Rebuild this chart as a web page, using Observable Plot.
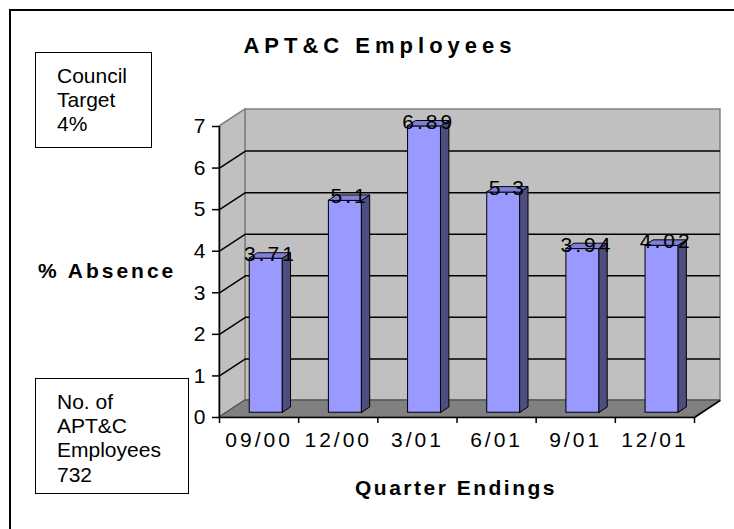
<!DOCTYPE html>
<html><head><meta charset="utf-8">
<script src="https://cdn.jsdelivr.net/npm/d3@7"></script>
<script src="https://cdn.jsdelivr.net/npm/@observablehq/plot@0.6"></script>
<style>
body{margin:0;background:#fff;}
#wrap{position:relative;width:734px;height:529px;overflow:hidden;font-family:'Liberation Sans',Arial,sans-serif;background:#fff;}
#wrap svg{position:absolute;left:0;top:0;}
.frame{position:absolute;left:9px;top:9px;width:900px;height:900px;border-left:2px solid #000;border-top:2px solid #000;}
.box{position:absolute;border:1.5px solid #000;box-sizing:border-box;}
.t{position:absolute;white-space:nowrap;color:#000;}
</style></head><body><div id="wrap"></div>
<script>
const categories = ["09/00","12/00","3/01","6/01","9/01","12/01"];
const absence = [3.71, 5.1, 6.89, 5.3, 3.94, 4.02];
const yTicks = [0,1,2,3,4,5,6,7];
const gridLevels = [1,2,3,4,5,6];
const titleText = "APT&C Employees";
const yLabel = "% Absence";
const xLabel = "Quarter Endings";
const box1Lines = ["Council","Target","4%"];
const box2Lines = ["No. of","APT&C","Employees","732"];

const n = categories.length;
const yMax = yTicks[yTicks.length-1];
const boundaries = d3.range(n+1);
// 3D depth offset expressed in data units
const DX = 0.328, DY = 0.409;
const F = 0.28, S = 0.31, W = 0.21;

const backWall = [{x1: DX, x2: n + DX, y1: DY, y2: yMax + DY}];
const sideWall = [{x: 0, y1: 0, y2: yMax}, {x: DX, y1: DY, y2: yMax + DY}];
const floor = [{y: 0, x1: 0, x2: n}, {y: DY, x1: DX, x2: n + DX}];

const bars = absence.map((v,i)=>({i, v, x1: i+0.5-W+F*DX, x2: i+0.5+W+F*DX, y0: F*DY, y1: v+F*DY}));
const sides = bars.flatMap(b=>[{z:b.i, x:b.x2, y1:b.y0, y2:b.y1},{z:b.i, x:b.x2+S*DX, y1:b.y0+S*DY, y2:b.y1+S*DY}]);
const tops = bars.flatMap(b=>[{z:b.i, y:b.y1, x1:b.x1, x2:b.x2},{z:b.i, y:b.y1+S*DY, x1:b.x1+S*DX, x2:b.x2+S*DX}]);

const chart = Plot.plot({
  width: 734, height: 529,
  marginLeft: 219, marginRight: 40, marginTop: 126, marginBottom: 112,
  x: {type: "linear", domain: [0, n], label: null},
  y: {type: "linear", domain: [0, yMax], label: null},
  style: {fontSize: "21px", fontFamily: "'Liberation Sans', Arial, sans-serif", letterSpacing: "3px", overflow: "visible", background: "transparent", color: "#000"},
  marks: [
    Plot.rect(backWall, {x1: "x1", x2: "x2", y1: "y1", y2: "y2", fill: "#c0c0c0", stroke: "#808080", strokeWidth: 1.5}),
    Plot.areaY(sideWall, {x: "x", y1: "y1", y2: "y2", fill: "#c0c0c0", stroke: "#808080", strokeWidth: 1.5}),
    Plot.ruleY(gridLevels, {y: d => d + DY, x1: () => DX, x2: () => n + DX, stroke: "#000", strokeWidth: 1.5}),
    Plot.link(gridLevels, {x1: () => 0, y1: d => d, x2: () => DX, y2: d => d + DY, stroke: "#000", strokeWidth: 1.5}),
    Plot.areaX(floor, {y: "y", x1: "x1", x2: "x2", fill: "#808080", stroke: "#404040", strokeWidth: 1}),
    Plot.link([n], {x1: d => d, y1: () => 0, x2: d => d + DX, y2: () => DY, stroke: "#000", strokeWidth: 1.5}),
    Plot.ruleY([0], {stroke: "#000", strokeWidth: 1.5}),
    Plot.ruleX([0], {stroke: "#000", strokeWidth: 1.5}),
    Plot.axisY({ticks: yTicks, tickSize: 7, tickPadding: 4, fontSize: 21, label: null, strokeWidth: 1.5, tickFormat: d => String(d)}),
    Plot.axisX({ticks: boundaries, tickSize: 6, tickFormat: () => "", label: null, strokeWidth: 1.5}),
    Plot.text(categories, {x: (d,i) => i + 0.5, frameAnchor: "bottom", dy: 29, text: d => d, fontSize: 21}),
    Plot.rect(bars, {x1: "x1", x2: "x2", y1: "y0", y2: "y1", fill: "#9999ff", stroke: "#000", strokeWidth: 1}),
    Plot.areaY(sides, {x: "x", y1: "y1", y2: "y2", z: "z", fill: "#4d4d80", stroke: "#000", strokeWidth: 1}),
    Plot.areaX(tops, {y: "y", x1: "x1", x2: "x2", z: "z", fill: "#8080d8", stroke: "#000", strokeWidth: 1}),
    Plot.text(absence, {x: (d,i) => i + 0.5 + (F + S/2) * DX, y: d => d + F*DY, dy: -4, text: d => String(d), fontSize: 21})
  ]
});

const wrap = document.getElementById("wrap");
wrap.appendChild(chart);

function addDiv(cls, css, html){
  const d = document.createElement("div");
  d.className = cls;
  Object.assign(d.style, css);
  if (html != null) d.innerHTML = html;
  wrap.appendChild(d);
  return d;
}
addDiv("frame", {});
addDiv("t", {left: "380px", top: "34.7px", transform: "translateX(-50%)", fontSize: "22px", fontWeight: "bold", letterSpacing: "5px", lineHeight: "22px"}).textContent = titleText;
addDiv("t", {left: "38px", top: "260.2px", fontSize: "21px", fontWeight: "bold", letterSpacing: "3px", lineHeight: "21px"}).textContent = yLabel;
addDiv("t", {left: "456px", top: "477.2px", transform: "translateX(-50%)", fontSize: "21px", fontWeight: "bold", letterSpacing: "2.5px", lineHeight: "21px"}).textContent = xLabel;
addDiv("box", {left: "35px", top: "52px", width: "117px", height: "96px"});
addDiv("t", {left: "57px", top: "63.7px", fontSize: "21px", lineHeight: "24px"}).innerHTML = box1Lines.join("<br>");
addDiv("box", {left: "35px", top: "378px", width: "154px", height: "116px"});
addDiv("t", {left: "57px", top: "389.7px", fontSize: "21px", lineHeight: "24.3px"}).innerHTML = box2Lines.join("<br>");
</script>
</body></html>
